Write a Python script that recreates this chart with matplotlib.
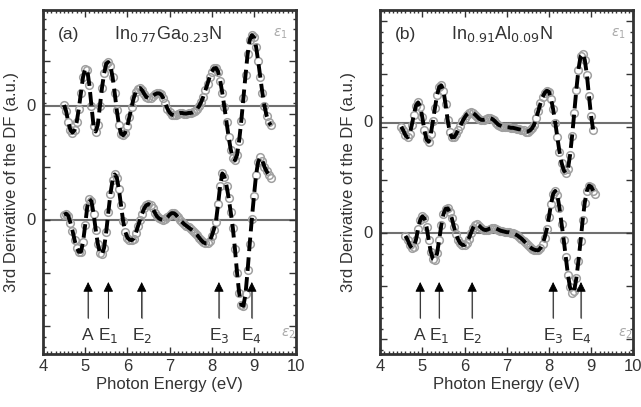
import numpy as np
import matplotlib
matplotlib.use("Agg")
import matplotlib.pyplot as plt
from matplotlib.ticker import MultipleLocator, NullFormatter
import matplotlib.transforms as mtransforms

plt.rcParams['font.family'] = ['Liberation Sans', 'DejaVu Sans']

# ---- data (a.u.) ----
# (a) In0.77Ga0.23N
ingan_e1_E = np.round(np.arange(4.50, 9.401, 0.05), 2)
ingan_e1 = [0.02, -0.10, -0.30, -0.45, -0.50, -0.45, -0.30, -0.05, 0.25, 0.55,
            0.70, 0.68, 0.40, 0.00, -0.38, -0.48, -0.35, 0.00, 0.35, 0.62,
            0.80, 0.83, 0.75, 0.55, 0.25, -0.08, -0.35, -0.52, -0.55, -0.50,
            -0.38, -0.20, -0.02, 0.15, 0.27, 0.33, 0.34, 0.30, 0.23, 0.17,
            0.15, 0.16, 0.19, 0.22, 0.24, 0.24, 0.22, 0.15, 0.05, -0.05,
            -0.12, -0.16, -0.17, -0.16, -0.14, -0.13, -0.13, -0.14, -0.14, -0.13,
            -0.13, -0.12, -0.10, -0.06, 0.00, 0.08, 0.18, 0.30, 0.42, 0.55,
            0.65, 0.71, 0.72, 0.65, 0.48, 0.25, -0.02, -0.30, -0.58, -0.82,
            -0.98, -1.02, -0.92, -0.65, -0.28, 0.15, 0.58, 0.98, 1.25, 1.34,
            1.30, 1.12, 0.85, 0.55, 0.25, 0.00, -0.18, -0.30, -0.36]
ingan_e2_E = np.round(np.arange(4.50, 9.401, 0.05), 2)
ingan_e2 = [0.10, 0.12, 0.08, -0.05, -0.20, -0.38, -0.52, -0.60, -0.60, -0.42,
            -0.10, 0.25, 0.40, 0.35, 0.12, -0.18, -0.45, -0.62, -0.65, -0.52,
            -0.22, 0.15, 0.50, 0.75, 0.86, 0.80, 0.58, 0.28, -0.02, -0.22,
            -0.33, -0.37, -0.38, -0.35, -0.25, -0.12, 0.00, 0.12, 0.22, 0.28,
            0.30, 0.28, 0.22, 0.14, 0.07, 0.03, 0.01, 0.00, 0.01, 0.05,
            0.10, 0.13, 0.13, 0.10, 0.05, 0.00, -0.04, -0.08, -0.11, -0.14,
            -0.17, -0.20, -0.24, -0.28, -0.33, -0.38, -0.42, -0.44, -0.44, -0.40,
            -0.30, -0.18, -0.03, 0.30, 0.65, 0.88, 0.82, 0.65, 0.42, 0.15,
            -0.15, -0.55, -1.00, -1.38, -1.60, -1.62, -1.40, -0.95, -0.45, 0.02,
            0.45, 0.85, 1.10, 1.18, 1.12, 1.00, 0.92, 0.85, 0.80]

# (b) In0.91Al0.09N
inaln_e1_E = np.round(np.arange(4.50, 9.051, 0.05), 2)
inaln_e1 = [-0.08, -0.15, -0.24, -0.28, -0.22, -0.05, 0.15, 0.32, 0.38, 0.30,
            0.10, -0.15, -0.32, -0.36, -0.22, 0.02, 0.28, 0.52, 0.67, 0.70,
            0.60, 0.35, 0.05, -0.18, -0.28, -0.28, -0.22, -0.14, -0.06, 0.02,
            0.09, 0.15, 0.18, 0.19, 0.18, 0.15, 0.11, 0.07, 0.05, 0.05,
            0.06, 0.08, 0.08, 0.07, 0.04, 0.00, -0.04, -0.06, -0.08, -0.09,
            -0.09, -0.09, -0.10, -0.10, -0.11, -0.12, -0.13, -0.14, -0.15, -0.17,
            -0.17, -0.15, -0.11, -0.04, 0.08, 0.22, 0.36, 0.48, 0.56, 0.60,
            0.58, 0.45, 0.25, 0.00, -0.28, -0.55, -0.76, -0.90, -0.95, -0.88,
            -0.62, -0.25, 0.18, 0.62, 1.00, 1.25, 1.30, 1.18, 0.90, 0.50,
            0.12, -0.15]
inaln_e2_E = np.round(np.arange(4.60, 9.101, 0.05), 2)
inaln_e2 = [-0.05, -0.12, -0.22, -0.28, -0.26, -0.12, 0.08, 0.25, 0.32, 0.28,
            0.12, -0.12, -0.35, -0.48, -0.50, -0.38, -0.12, 0.15, 0.36, 0.46,
            0.47, 0.40, 0.28, 0.12, -0.02, -0.12, -0.19, -0.22, -0.22, -0.18,
            -0.10, 0.00, 0.10, 0.16, 0.17, 0.14, 0.10, 0.07, 0.06, 0.07,
            0.09, 0.10, 0.10, 0.09, 0.07, 0.05, 0.04, 0.03, 0.02, 0.02,
            0.01, 0.00, -0.02, -0.04, -0.07, -0.10, -0.14, -0.18, -0.22, -0.26,
            -0.29, -0.31, -0.32, -0.32, -0.28, -0.20, -0.08, 0.08, 0.30, 0.55,
            0.74, 0.80, 0.72, 0.48, 0.18, -0.12, -0.45, -0.78, -1.02, -1.12,
            -1.08, -0.85, -0.52, -0.15, 0.25, 0.58, 0.80, 0.90, 0.88, 0.80,
            0.75]

# critical points marked by arrows
cp_labels = ['A', 'E$_1$', 'E$_2$', 'E$_3$', 'E$_4$']
ingan_cp = [5.07, 5.55, 6.34, 8.17, 8.95]
inaln_cp = [4.95, 5.40, 6.18, 8.10, 8.76]

panels = [
    dict(rect=[0.067, 0.130, 0.395, 0.845], tag='(a)',
         name='In$_{0.77}$Ga$_{0.23}$N', ylim=(-2.53, 3.96), off=2.15,
         e1=(ingan_e1_E, ingan_e1), e2=(ingan_e2_E, ingan_e2), cp=ingan_cp,
         arr=(-1.17, -1.85, -2.17)),
    dict(rect=[0.593, 0.130, 0.395, 0.845], tag='(b)',
         name='In$_{0.91}$Al$_{0.09}$N', ylim=(-2.28, 4.21), off=2.09,
         e1=(inaln_e1_E, inaln_e1), e2=(inaln_e2_E, inaln_e2), cp=inaln_cp,
         arr=(-0.92, -1.60, -1.92)),
]

fig = plt.figure(figsize=(6.41, 4.07), dpi=100)

for p in panels:
    ax = fig.add_axes(p['rect'])
    ax.set_xlim(4, 10)
    ax.set_ylim(*p['ylim'])

    ax.axhline(p['off'], color='#707070', lw=1.5, zorder=1)
    ax.axhline(0, color='#707070', lw=1.5, zorder=1)

    for (E, y), shift in [(p['e1'], p['off']), (p['e2'], 0)]:
        yy = np.array(y) + shift
        ax.plot(E, yy, 'o', ms=5.5, mfc='none', mec='#a0a0a0', mew=1.1, zorder=2)
        ax.plot(E, yy, color='black', lw=2.8, dashes=(3.5, 1.6), zorder=3)

    tip, base, lab = p['arr']
    for x, t in zip(p['cp'], cp_labels):
        ax.annotate('', xy=(x, tip), xytext=(x, base),
                    arrowprops=dict(arrowstyle='-|>', color='black', lw=0.6,
                                    mutation_scale=15, shrinkA=0, shrinkB=0),
                    zorder=4)
        ax.plot([x, x], [base, tip - 0.15], color='#999999', lw=0.8, zorder=3)
        ax.text(x, lab, t, ha='center', va='center', fontsize=12.5, color='#333333')

    ax.text(0.06, 0.93, p['tag'], transform=ax.transAxes, fontsize=12.5,
            ha='left', va='center', color='#333333')
    ax.text(0.28, 0.93, p['name'], transform=ax.transAxes, fontsize=13,
            ha='left', va='center', color='#333333')
    ax.text(0.91, 0.93, r'$\epsilon_1$', transform=ax.transAxes, fontsize=10,
            ha='left', va='center', color='#aaaaaa')
    ax.text(0.94, 0.06, r'$\epsilon_2$', transform=ax.transAxes, fontsize=10,
            ha='left', va='center', color='#aaaaaa')

    trans = mtransforms.blended_transform_factory(ax.transAxes, ax.transData)
    for y0 in (0, p['off']):
        ax.text(-0.03, y0, '0', transform=trans, ha='right', va='center',
                fontsize=12, color='#333333')

    ax.xaxis.set_major_locator(MultipleLocator(1))
    ax.xaxis.set_minor_locator(MultipleLocator(0.1))
    ax.yaxis.set_major_locator(MultipleLocator(1))
    ax.yaxis.set_minor_locator(MultipleLocator(0.2))
    ax.yaxis.set_major_formatter(NullFormatter())
    ax.tick_params(which='both', direction='in', top=True, right=True,
                   color='#333333', width=1.0)
    ax.tick_params(which='major', length=5, labelsize=12, labelcolor='#333333')
    ax.tick_params(which='minor', length=2.5)
    for s in ax.spines.values():
        s.set_linewidth(2.0)
        s.set_color('#333333')

    ax.set_xlabel('Photon Energy (eV)', fontsize=12, color='#333333', labelpad=2)
    ax.set_ylabel('3rd Derivative of the DF (a.u.)', fontsize=12,
                  color='#333333', labelpad=14)

fig.savefig('out.png', dpi=100)
